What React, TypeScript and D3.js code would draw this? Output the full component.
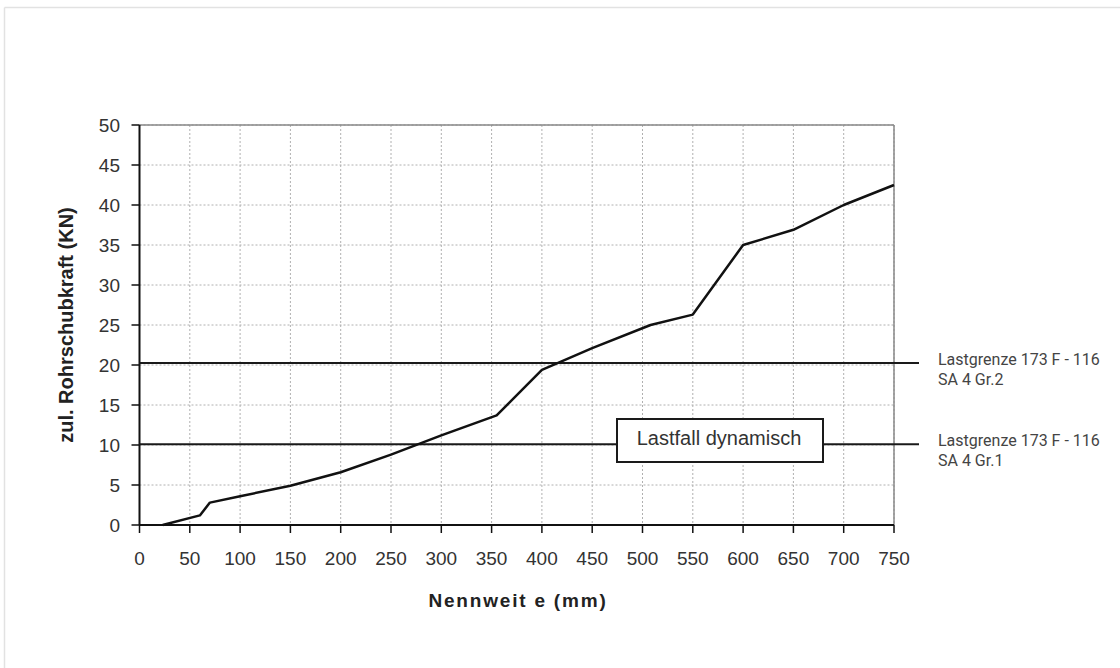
import React from "react";
import * as d3 from "d3";

const xTicks = [0, 50, 100, 150, 200, 250, 300, 350, 400, 450, 500, 550, 600, 650, 700, 750];
const yTicks = [0, 5, 10, 15, 20, 25, 30, 35, 40, 45, 50];
const dn = [23, 60, 70, 100, 150, 200, 250, 300, 355, 400, 450, 508, 550, 600, 650, 700, 750];
const force = [0, 1.2, 2.8, 3.6, 4.9, 6.6, 8.8, 11.2, 13.7, 19.4, 22.1, 25, 26.3, 35, 36.9, 40, 42.5];
const limitValues = [20.25, 10.1];
const limitLabels = [["Lastgrenze 173 F - 116", "SA 4 Gr.2"], ["Lastgrenze 173 F - 116", "SA 4 Gr.1"]];
const boxLabel = "Lastfall dynamisch";
const xTitle = "Nennweit e (mm)";
const yTitle = "zul. Rohrschubkraft (KN)";

export default function App() {
  const W = 1120, H = 668;
  const x = d3.scaleLinear().domain([0, 750]).range([139.5, 894]);
  const y = d3.scaleLinear().domain([0, 50]).range([525, 125]);
  const pts = dn.map((d, i) => [d, force[i]] as [number, number]);
  const line = d3.line<[number, number]>().x(d => x(d[0])).y(d => y(d[1]));
  const font = "Arial, 'Liberation Sans', sans-serif";
  const x0 = x(0), x1 = x(750), y0 = y(0), y1 = y(50);
  const lineEnd = 919;
  return (
    <div style={{ position: "absolute", left: 0, top: 0 }}>
      <svg width={W} height={H} style={{ display: "block", background: "#fff" }}>
        {/* outer frame */}
        <line x1={4.5} y1={7.5} x2={W} y2={7.5} stroke="#e2e2e2" strokeWidth={1.5} />
        <line x1={4.5} y1={7.5} x2={4.5} y2={H} stroke="#e2e2e2" strokeWidth={1.5} />
        {/* grid */}
        {xTicks.slice(1).map(t => (
          <line key={"gx" + t} x1={x(t)} x2={x(t)} y1={y1} y2={y0} stroke="#b0b0b0" strokeWidth={1} strokeDasharray="2,2" />
        ))}
        {yTicks.slice(1).map(t => (
          <line key={"gy" + t} x1={x0} x2={x1} y1={y(t)} y2={y(t)} stroke="#b0b0b0" strokeWidth={1} strokeDasharray="2,2" />
        ))}
        {/* plot border top/right */}
        <line x1={x0} x2={x1} y1={y1} y2={y1} stroke="#888" strokeWidth={1.5} />
        <line x1={x1} x2={x1} y1={y1} y2={y0} stroke="#888" strokeWidth={1.5} />
        {/* axes */}
        <line x1={x0} x2={x0} y1={y1} y2={y0} stroke="#111" strokeWidth={2} />
        <line x1={x0} x2={x1} y1={y0} y2={y0} stroke="#111" strokeWidth={2} />
        {yTicks.map(t => (
          <g key={"ty" + t}>
            <line x1={x0 - 8} x2={x0} y1={y(t)} y2={y(t)} stroke="#111" strokeWidth={1.5} />
            <text x={120} y={y(t)} dy="0.36em" textAnchor="end" fontFamily={font} fontSize={19} fill="#333">{t}</text>
          </g>
        ))}
        {xTicks.map(t => (
          <g key={"tx" + t}>
            <line x1={x(t)} x2={x(t)} y1={y0} y2={y0 + 8} stroke="#111" strokeWidth={1.5} />
            <text x={x(t)} y={565} textAnchor="middle" fontFamily={font} fontSize={19} fill="#333">{t}</text>
          </g>
        ))}
        {/* limit lines */}
        {limitValues.map((v, i) => (
          <line key={"lim" + i} x1={x0} x2={lineEnd} y1={y(v)} y2={y(v)} stroke="#1a1a1a" strokeWidth={2} />
        ))}
        {/* data line */}
        <path d={line(pts) || ""} fill="none" stroke="#111" strokeWidth={2.5} strokeLinejoin="round" />
        {/* box */}
        <rect x={617} y={419} width={206} height={43} fill="#fff" stroke="#1a1a1a" strokeWidth={2} />
        <text x={719} y={438} dy="0.36em" textAnchor="middle" fontFamily={font} fontSize={20} fill="#333">{boxLabel}</text>
        {/* right labels */}
        {limitLabels.map((ls, i) => (
          <text key={"ll" + i} x={938} y={y(limitValues[i]) + 1.5} fontFamily="Roboto, sans-serif" fontSize={16} fill="#444">
            {ls.map((s, j) => (
              <tspan key={j} x={938} dy={j === 0 ? 0 : 20.5}>{s}</tspan>
            ))}
          </text>
        ))}
        {/* titles */}
        <text x={518} y={607} textAnchor="middle" fontFamily={font} fontWeight="bold" fontSize={19} letterSpacing={1.8} fill="#222">{xTitle}</text>
        <text transform={`translate(73,${(y0 + y1) / 2}) rotate(-90)`} textAnchor="middle" fontFamily={font} fontWeight="bold" fontSize={20} fill="#222">{yTitle}</text>
      </svg>
    </div>
  );
}
